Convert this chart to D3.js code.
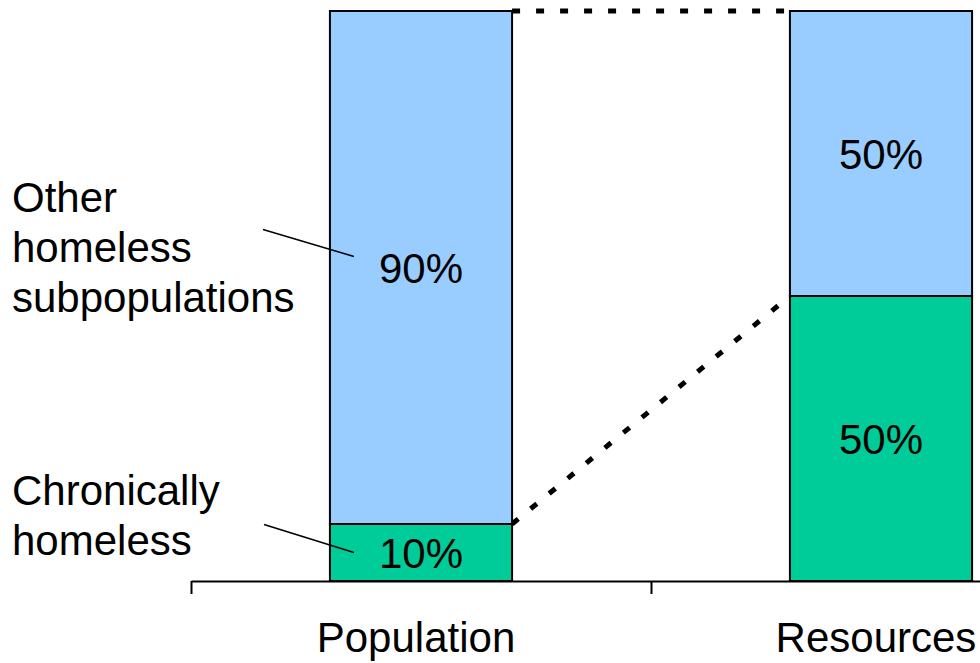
<!DOCTYPE html>
<html>
<head>
<meta charset="utf-8">
<script src="https://cdn.jsdelivr.net/npm/d3@7/dist/d3.min.js"></script>
<style>
  body { margin: 0; background: #fff; }
  text { font-family: "Liberation Sans", Arial, sans-serif; }
</style>
</head>
<body>
<div class="canvas"></div>
<script>
// data
const categories = ['Population', 'Resources'];
const chronic = [10, 50];
const other = [90, 50];
const otherLabel = ['Other', 'homeless', 'subpopulations'];
const chronicLabel = ['Chronically', 'homeless'];

const svgDims = { width: 980, height: 663 };
const fontSize = 42;

const svg = d3.select('.canvas')
    .append('svg')
    .attr('width', svgDims.width)
    .attr('height', svgDims.height);

const x = d3.scaleBand()
    .domain(categories)
    .range([191, 1111])
    .paddingInner(0.604)
    .paddingOuter(0.302);

const y = d3.scaleLinear()
    .domain([0, 100])
    .range([581, 11]);

// category boundaries for the axis ticks
const xEdges = d3.scaleLinear()
    .domain([0, categories.length])
    .range(x.range());

const rows = categories.map((c, i) => ({ cat: c, chronic: chronic[i], other: other[i] }));
const stack = d3.stack().keys(['chronic', 'other'])(rows);
const colors = { chronic: '#00cc99', other: '#99ccff' };

// dotted connectors between bar tops / segment boundaries
const connectors = svg.append('g')
    .attr('stroke', '#000')
    .attr('stroke-width', 5)
    .attr('stroke-dasharray', '8,16')
    .attr('fill', 'none');

[stack[1], stack[0]].forEach(layer => {
    connectors.append('line')
        .attr('x1', x(categories[0]) + x.bandwidth())
        .attr('y1', y(layer[0][1]))
        .attr('x2', x(categories[1]))
        .attr('y2', y(layer[1][1]));
});

// bars
const layers = svg.selectAll('g.layer')
    .data(stack)
    .enter()
    .append('g')
        .attr('class', 'layer')
        .attr('fill', d => colors[d.key]);

layers.selectAll('rect')
    .data(d => d)
    .enter()
    .append('rect')
        .attr('x', d => x(d.data.cat))
        .attr('y', d => y(d[1]))
        .attr('width', x.bandwidth())
        .attr('height', d => y(d[0]) - y(d[1]))
        .attr('stroke', '#000')
        .attr('stroke-width', 2);

layers.selectAll('text')
    .data(d => d)
    .enter()
    .append('text')
        .attr('x', d => x(d.data.cat) + x.bandwidth() / 2)
        .attr('y', d => y((d[0] + d[1]) / 2))
        .attr('dy', '0.36em')
        .attr('text-anchor', 'middle')
        .attr('font-size', fontSize)
        .attr('fill', '#000')
        .text(d => `${d[1] - d[0]}%`);

// axis
const xAxisGroup = svg.append('g')
    .attr('transform', `translate(0, ${y(0)})`);
xAxisGroup.call(d3.axisBottom(xEdges)
    .tickValues(d3.range(categories.length + 1))
    .tickSize(13)
    .tickSizeOuter(0)
    .tickFormat(''));
xAxisGroup.selectAll('path, line')
    .attr('stroke', '#000')
    .attr('stroke-width', 2);

svg.selectAll('text.cat')
    .data(categories)
    .enter()
    .append('text')
        .attr('class', 'cat')
        .attr('x', d => x(d) + x.bandwidth() / 2 - 5)
        .attr('y', 652)
        .attr('text-anchor', 'middle')
        .attr('font-size', fontSize)
        .text(d => d);

// left side labels with leader lines
const bar0 = x(categories[0]);
const addLabel = (lines, firstBaseline, lineFrom, lineTo) => {
    const t = svg.append('text')
        .attr('font-size', fontSize)
        .attr('x', 12);
    lines.forEach((l, i) => {
        t.append('tspan')
            .attr('x', 12)
            .attr('y', firstBaseline + i * 50)
            .text(l);
    });
    svg.append('line')
        .attr('x1', lineFrom[0]).attr('y1', lineFrom[1])
        .attr('x2', lineTo[0]).attr('y2', lineTo[1])
        .attr('stroke', '#000')
        .attr('stroke-width', 1.5);
};

const otherMid = y((stack[1][0][0] + stack[1][0][1]) / 2);
const chronicMid = y((stack[0][0][0] + stack[0][0][1]) / 2);
addLabel(otherLabel, 212, [263, otherMid - 38], [bar0 + 24, otherMid - 11]);
addLabel(chronicLabel, 505, [264, chronicMid - 28], [bar0 + 24, chronicMid]);
</script>
</body>
</html>
